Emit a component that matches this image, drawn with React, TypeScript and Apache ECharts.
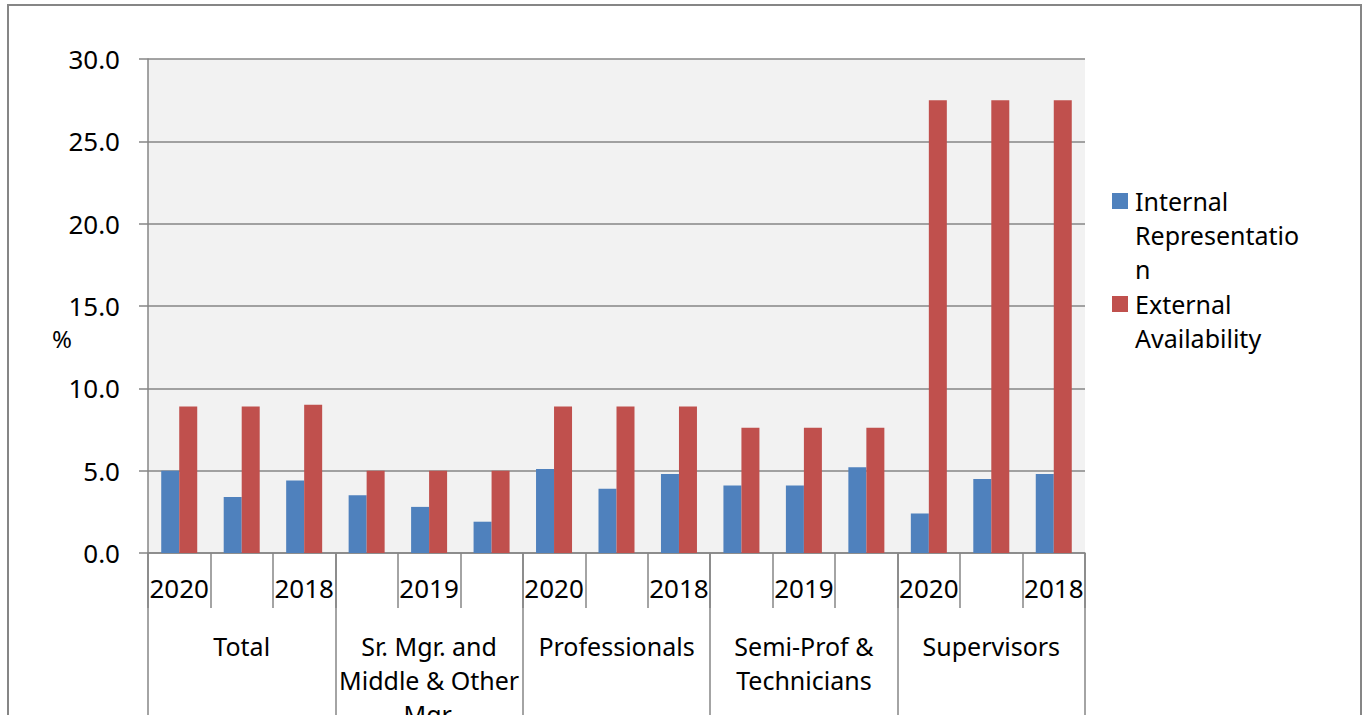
import React, { useEffect, useRef } from "react";
import * as echarts from "echarts";

const groups = [
  "Total",
  "Sr. Mgr. and\nMiddle & Other\nMgr.",
  "Professionals",
  "Semi-Prof &\nTechnicians",
  "Supervisors",
];
const yearsPerGroup = ["2020", "2019", "2018"];
const years = groups.flatMap(() => yearsPerGroup);
const seriesNames = ["Internal\nRepresentatio\nn", "External\nAvailability"];
const internalRep = [5.0, 3.4, 4.4, 3.5, 2.8, 1.9, 5.1, 3.9, 4.8, 4.1, 4.1, 5.2, 2.4, 4.5, 4.8];
const externalAvail = [8.9, 8.9, 9.0, 5.0, 5.0, 5.0, 8.9, 8.9, 8.9, 7.6, 7.6, 7.6, 27.5, 27.5, 27.5];
const yMin = 0;
const yMax = 30;
const yStep = 5;
const colors = ["#4F81BD", "#C0504D"];

const FONT = "Noto Sans";
const FS_NUM = 26;
const FS_TXT = 25;
const GRAY = "#868686";

export default function App() {
  const ref = useRef<HTMLDivElement>(null);
  useEffect(() => {
    if (!ref.current) return;
    const chart = echarts.init(ref.current, null, { renderer: "svg" });
    chart.setOption({
      animation: false,
      textStyle: { fontFamily: FONT },
      grid: {
        left: 148, top: 59, right: 281, bottom: 162,
        outerBoundsMode: "none", containLabel: false,
        show: true, backgroundColor: "#F2F2F2", borderWidth: 0,
      },
      xAxis: [
        {
          type: "category",
          data: years,
          position: "bottom",
          axisLine: { show: true, lineStyle: { color: GRAY, width: 1.5 } },
          axisTick: { show: true, interval: 0, length: 55, lineStyle: { color: GRAY, width: 1.5 } },
          axisLabel: { interval: 1, margin: 22, fontSize: FS_NUM, color: "#000", fontFamily: FONT },
        },
        {
          type: "category",
          data: groups,
          position: "bottom",
          axisLine: { show: false },
          axisTick: { show: true, interval: 0, length: 220, lineStyle: { color: GRAY, width: 1.5 } },
          axisLabel: { interval: 0, margin: 76, fontSize: FS_TXT, lineHeight: 34, color: "#000", fontFamily: FONT },
        },
      ],
      yAxis: {
        type: "value",
        min: yMin,
        max: yMax,
        interval: yStep,
        axisLine: { show: true, lineStyle: { color: GRAY, width: 1.5 } },
        axisTick: { show: true, length: 9, lineStyle: { color: GRAY, width: 1.5 } },
        axisLabel: { margin: 28, fontSize: FS_NUM, color: "#000", fontFamily: FONT, formatter: (v: number) => v.toFixed(1) },
        splitLine: { show: true, lineStyle: { color: GRAY, width: 1.5 } },
      },
      series: [
        { name: seriesNames[0], type: "bar", data: internalRep, barWidth: 18, barGap: "0%", itemStyle: { color: colors[0] } },
        { name: seriesNames[1], type: "bar", data: externalAvail, barWidth: 18, barGap: "0%", itemStyle: { color: colors[1] } },
      ],
      graphic: [
        { type: "rect", shape: { x: 8, y: 5, width: 1353, height: 740 }, style: { fill: "none", stroke: GRAY, lineWidth: 2 }, z: -10 },
        { type: "text", x: 62, y: 338, style: { text: "%", fontSize: 24, fill: "#000", fontFamily: FONT, align: "center", verticalAlign: "middle" } },
        { type: "rect", shape: { x: 1112, y: 193, width: 16, height: 16 }, style: { fill: colors[0] } },
        { type: "text", x: 1135, y: 184, style: { text: seriesNames[0], fontSize: FS_TXT, lineHeight: 34, fill: "#000", fontFamily: FONT, align: "left", verticalAlign: "top" } },
        { type: "rect", shape: { x: 1112, y: 296, width: 16, height: 16 }, style: { fill: colors[1] } },
        { type: "text", x: 1135, y: 287, style: { text: seriesNames[1], fontSize: FS_TXT, lineHeight: 34, fill: "#000", fontFamily: FONT, align: "left", verticalAlign: "top" } },
      ],
    });
    return () => chart.dispose();
  }, []);
  return <div ref={ref} style={{ position: "fixed", left: 0, top: 0, width: 1366, height: 715, background: "#fff" }} />;
}
